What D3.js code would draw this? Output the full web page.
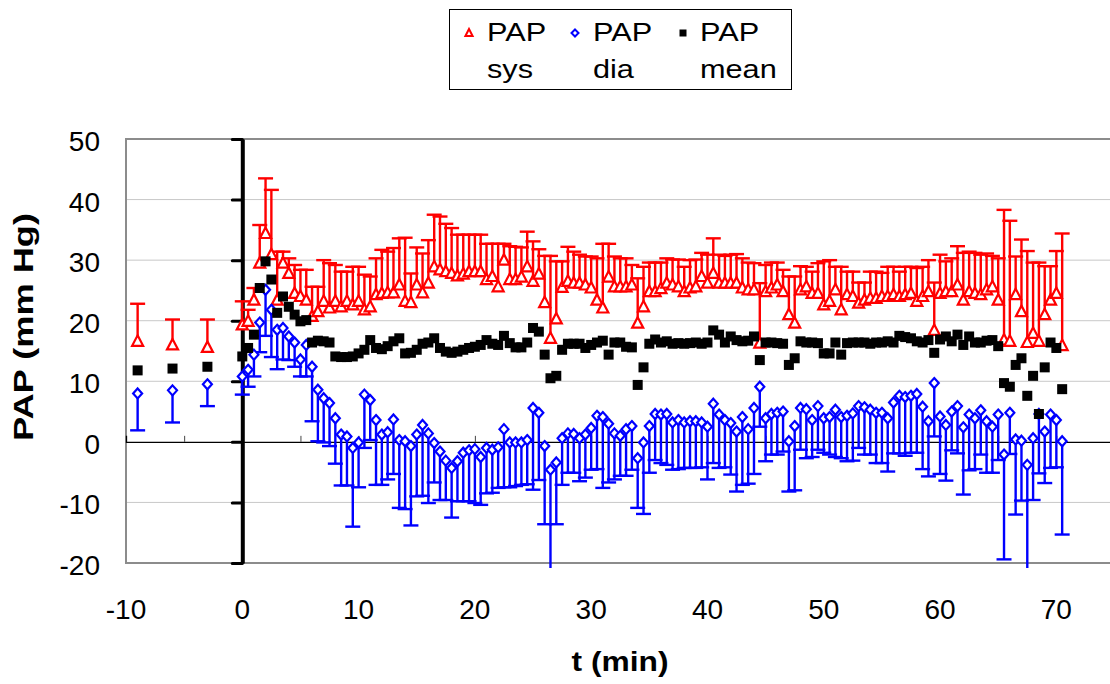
<!DOCTYPE html>
<html>
<head>
<meta charset="utf-8">
<script src="https://cdn.jsdelivr.net/npm/d3@7"></script>
<style>
body { margin: 0; background: #fff; }
text { font-family: Arial, "Liberation Sans", sans-serif; fill: #000; }
</style>
</head>
<body>
<svg id="chart" width="1110" height="684"></svg>
<script>
// baseline points before t = 0, then one sample every half minute
var preTimes = [-9, -6, -3];
var times = preTimes.concat(d3.range(0, 71, 0.5));

// PAP sys: value and top of error bar
var sysVal = [16.6, 16.0, 15.6,
  19.3,19.9,23.4,29.5,34.4,30.9,23.4,29.5,27.8,24.5,
  24.0,23.4,20.7,21.5,23.2,22.1,23.2,22.3,23.2,22.6,
  23.2,21.8,22.3,24.3,24.5,24.6,24.6,25.9,23.2,23.0,
  25.9,24.6,26.2,28.9,28.4,28.1,27.8,27.4,27.7,28.1,
  28.1,28.1,26.8,27.3,25.6,30.0,26.8,26.8,27.2,28.9,
  26.5,27.7,23.0,17.1,20.3,25.5,26.5,26.2,26.2,25.9,
  25.4,23.4,22.1,27.2,25.6,25.6,25.6,25.9,19.6,22.3,
  24.8,24.8,25.3,26.2,25.9,25.6,24.8,25.4,25.6,27.3,
  26.2,27.8,26.2,26.2,26.2,26.2,25.4,25.1,25.1,16.3,
  24.8,25.4,25.9,24.8,21.0,19.6,25.1,25.6,24.5,24.5,
  22.6,23.2,25.1,21.8,24.3,24.0,22.9,23.4,23.7,23.7,
  24.0,24.0,24.3,24.0,24.3,24.5,23.2,24.0,24.8,18.4,
  24.5,24.8,24.8,25.9,23.4,24.8,24.5,24.3,25.1,25.6,
  23.4,16.8,16.6,24.3,21.5,16.4,17.9,16.6,21.0,23.4,
  24.5,15.9];
var sysHi = [22.8, 20.2, 20.2,
  23.2,21.8,25.4,35.8,43.5,41.6,31.4,31.4,30.3,29.2,
  28.4,28.4,25.6,25.6,30.0,29.5,29.2,28.1,28.1,28.9,
  28.9,27.6,27.3,30.3,31.7,31.4,32.0,33.6,33.7,27.8,
  32.1,31.1,33.3,37.5,37.2,36.0,35.3,34.2,34.2,34.2,
  34.2,34.2,32.7,32.7,32.7,32.7,32.3,32.2,32.1,34.7,
  33.1,31.8,30.7,30.7,29.8,29.8,32.2,31.4,30.9,30.6,
  30.6,30.3,32.7,32.7,30.6,30.3,30.3,29.2,27.0,28.9,
  29.6,29.6,29.6,30.3,30.1,30.1,28.9,30.0,30.1,31.2,
  30.9,33.6,30.9,30.7,30.9,31.0,30.3,29.6,29.5,26.2,
  29.2,29.6,29.6,28.4,27.3,27.3,29.0,28.9,28.1,29.5,
  29.8,30.0,28.9,28.9,28.1,28.1,26.3,26.3,28.1,28.1,
  27.9,28.9,28.9,28.1,28.9,28.9,28.7,28.9,30.0,26.3,
  30.9,29.8,30.3,32.3,31.2,31.4,31.2,30.9,31.1,30.7,
  30.3,38.3,36.5,30.6,33.4,31.5,29.6,29.6,29.0,29.0,
  31.5,34.4];

// PAP dia: value and bottom of error bar
var diaVal = [8.0, 8.5, 9.5,
  10.8,11.9,14.4,19.7,25.1,21.8,18.5,18.8,17.4,16.4,
  13.6,16.0,12.4,8.6,7.2,6.4,3.9,1.2,0.9,-1.0,
  -0.1,7.8,6.9,3.6,1.2,1.6,3.7,0.3,0.1,-0.7,
  1.2,2.8,1.4,-0.2,-1.6,-3.1,-4.3,-3.2,-1.8,-1.4,
  -1.2,-2.5,-1.0,-1.3,-0.9,2.1,-0.1,-0.1,-0.1,0.3,
  5.6,4.8,-0.7,-4.6,-3.4,0.6,1.4,1.3,0.6,1.2,
  2.3,4.3,4.1,3.0,1.4,1.0,2.1,2.6,-2.7,-0.1,
  2.6,4.6,4.5,4.6,3.2,3.6,3.2,3.4,3.4,3.2,
  2.5,6.3,4.5,3.6,3.1,1.7,4.1,2.1,5.6,9.1,
  3.9,4.6,4.8,5.0,0.1,2.6,5.6,5.4,3.6,5.9,
  3.9,4.1,5.3,4.1,4.3,4.7,5.9,5.7,5.3,4.8,
  4.8,3.9,6.5,7.6,7.4,7.6,7.9,5.8,3.4,9.7,
  4.2,2.8,5.0,5.9,2.4,4.5,3.9,5.2,3.4,2.5,
  4.5,-2.1,4.8,0.4,0.2,-3.8,0.6,4.6,1.7,4.5,
  3.6,0.1];
var diaLo = [1.9, 3.2, 5.9,
  7.8,9.1,10.8,14.8,17.5,14.0,12.0,13.6,13.5,12.4,
  10.8,10.8,3.4,0.1,-0.1,-0.7,-3.6,-7.2,-7.2,-14.0,
  -7.5,-1.0,0.3,-7.1,-7.1,-6.2,-5.3,-10.9,-11.1,-13.8,
  -9.0,-8.9,-10.1,-6.7,-9.6,-9.6,-12.5,-9.8,-9.8,-9.8,
  -10.1,-10.4,-8.5,-8.4,-7.6,-7.5,-7.5,-7.3,-7.1,-7.0,
  -7.9,-6.3,-13.6,-24,-13.6,-7.1,-5.1,-5.1,-6.5,-5.9,
  -4.6,-4.5,-7.6,-6.7,-6.2,-5.6,-5.6,-4.6,-10.9,-11.9,
  -5.1,-3.0,-3.5,-3.8,-4.6,-4.5,-4.3,-4.3,-4.3,-4.2,
  -6.2,-3.5,-4.3,-4.2,-5.4,-8.2,-7.1,-6.9,-5.3,2.5,
  -3.2,-2.1,-2.1,-1.6,-8.2,-8.0,-1.3,-2.7,-2.5,-1.3,
  -1.8,-2.1,-2.5,-2.7,-3.2,-3.1,-1.0,-2.1,-2.1,-3.5,
  -3.5,-4.9,-1.9,-1.9,-2.3,-1.8,-1.8,-4.5,-5.7,0.9,
  -5.3,-6.4,-1.4,-1.9,-8.7,-4.7,-4.5,-2.1,-5.1,-5.1,
  -3.0,-19.4,-2.0,-12.0,-9.7,-24,-9.6,-5.2,-6.8,-4.3,
  -4.2,-15.3];

// PAP mean
var meanVal = [11.8, 12.1, 12.4,
  14.1,15.5,17.7,25.4,29.8,26.8,21.3,24.0,22.3,21.0,
  19.9,20.1,16.4,16.7,16.6,16.4,14.1,14.0,14.0,14.1,
  14.6,15.2,16.8,15.5,15.3,15.8,16.6,17.1,14.6,14.7,
  15.2,16.2,16.4,17.1,15.5,14.9,14.7,14.9,15.2,15.5,
  15.7,16.0,16.8,16.2,16.0,17.5,16.3,15.6,15.6,16.4,
  18.8,18.2,14.4,10.5,10.9,15.2,16.2,16.2,16.2,15.5,
  16.0,16.4,16.7,14.4,16.4,16.4,15.7,15.6,9.4,12.3,
  16.2,16.9,16.4,16.6,16.2,16.3,16.2,16.3,16.4,16.2,
  16.4,18.4,17.7,16.4,17.4,16.8,16.6,16.7,17.4,13.5,
  16.4,16.4,16.3,16.2,12.7,13.8,16.6,16.4,16.4,16.3,
  14.6,14.6,16.4,14.4,16.3,16.4,16.4,16.4,16.2,16.4,
  16.4,16.6,16.4,17.5,17.3,17.1,16.6,16.4,16.8,14.7,
  16.9,17.4,16.6,17.7,16.0,17.4,16.4,16.4,16.7,16.8,
  15.8,9.7,9.1,12.7,13.8,7.6,10.9,4.6,12.3,16.4,
  15.5,8.7];

var yTicks = [-20, -10, 0, 10, 20, 30, 40, 50];
var xTicks = [-10, 0, 10, 20, 30, 40, 50, 60, 70];
var xMinor = [-5, 5, 10, 15, 20, 25, 30, 35, 40, 45, 50, 55, 60, 65, 70];

var RED = "#ff0000", BLUE = "#0000ff";

var svg = d3.select("#chart");
var x = d3.scaleLinear().domain([-10, 75]).range([126, 1114.5]);
var y = d3.scaleLinear().domain([-20, 50]).range([563, 139]);

var rows = times.map(function (t, i) {
  return { t: t, sys: sysVal[i], sysHi: sysHi[i], dia: diaVal[i], diaLo: diaLo[i], mean: meanVal[i] };
});

// grid
svg.append("g").selectAll("line")
  .data(yTicks.filter(function (d) { return d > -20 && d < 50 && d !== 0; }))
  .enter().append("line")
  .attr("x1", x(-10)).attr("x2", x(75))
  .attr("y1", function (d) { return y(d); }).attr("y2", function (d) { return y(d); })
  .attr("stroke", "#c8c8c8").attr("stroke-width", 1);

svg.append("rect")
  .attr("x", x(-10)).attr("y", y(50))
  .attr("width", x(75) - x(-10)).attr("height", y(-20) - y(50))
  .attr("fill", "none").attr("stroke", "#8c8c8c").attr("stroke-width", 2);

// horizontal axis crossing at 0
var xAxis = svg.append("g")
  .attr("transform", "translate(0," + y(0) + ")")
  .call(d3.axisBottom(x).tickValues(xMinor).tickSize(-6).tickFormat(""));
xAxis.select(".domain").attr("stroke", "#000").attr("stroke-width", 1.3);
xAxis.selectAll(".tick line").attr("stroke", "#444").attr("stroke-width", 1);

// vertical axis crossing at 0
var yAxis = svg.append("g")
  .attr("transform", "translate(" + x(0) + ",0)")
  .call(d3.axisLeft(y).tickValues(yTicks).tickSize(10).tickSizeOuter(0).tickFormat(""));
yAxis.select(".domain").attr("stroke", "#000").attr("stroke-width", 4);
yAxis.selectAll(".tick line").attr("stroke", "#000").attr("stroke-width", 3).attr("stroke-linecap", "round");

// tick labels
svg.append("g").selectAll("text")
  .data(yTicks).enter().append("text")
  .attr("x", 100).attr("y", function (d) { return y(d) + 12; })
  .attr("text-anchor", "end").attr("font-size", 28)
  .text(function (d) { return d; });

svg.append("g").selectAll("text")
  .data(xTicks).enter().append("text")
  .attr("x", function (d) { return x(d); }).attr("y", 619)
  .attr("text-anchor", "middle").attr("font-size", 28)
  .text(function (d) { return d; });

svg.append("text")
  .attr("x", 620).attr("y", 671)
  .attr("text-anchor", "middle").attr("font-size", 28).attr("font-weight", "bold")
  .attr("textLength", 97).attr("lengthAdjust", "spacingAndGlyphs")
  .text("t (min)");

svg.append("text")
  .attr("transform", "translate(33,327) rotate(-90)")
  .attr("text-anchor", "middle").attr("font-size", 28).attr("font-weight", "bold")
  .attr("textLength", 228).attr("lengthAdjust", "spacingAndGlyphs")
  .text("PAP (mm Hg)");

// data, clipped just below the plot bottom like the original
svg.append("clipPath").attr("id", "plotClip")
  .append("rect").attr("x", x(-10)).attr("y", 0).attr("width", x(75) - x(-10)).attr("height", 568);
var plot = svg.append("g").attr("clip-path", "url(#plotClip)");

var capW = 7.5;
var triPath = "M0,-6L5.5,4.5L-5.5,4.5Z";
var diaPath = "M0,-5L4.5,0L0,5L-4.5,0Z";

// sys error bars (up)
var sysBars = plot.append("g").attr("stroke", RED).attr("stroke-width", 2.4);
sysBars.selectAll("line.v").data(rows).enter().append("line").attr("class", "v")
  .attr("x1", function (d) { return x(d.t); }).attr("x2", function (d) { return x(d.t); })
  .attr("y1", function (d) { return y(d.sys); }).attr("y2", function (d) { return y(d.sysHi); });
sysBars.selectAll("line.c").data(rows).enter().append("line").attr("class", "c")
  .attr("x1", function (d) { return x(d.t) - capW; }).attr("x2", function (d) { return x(d.t) + capW; })
  .attr("y1", function (d) { return y(d.sysHi); }).attr("y2", function (d) { return y(d.sysHi); });

// dia error bars (down)
var diaBars = plot.append("g").attr("stroke", BLUE).attr("stroke-width", 2.4);
diaBars.selectAll("line.v").data(rows).enter().append("line").attr("class", "v")
  .attr("x1", function (d) { return x(d.t); }).attr("x2", function (d) { return x(d.t); })
  .attr("y1", function (d) { return y(d.dia); }).attr("y2", function (d) { return y(d.diaLo); });
diaBars.selectAll("line.c").data(rows).enter().append("line").attr("class", "c")
  .attr("x1", function (d) { return x(d.t) - capW; }).attr("x2", function (d) { return x(d.t) + capW; })
  .attr("y1", function (d) { return y(d.diaLo); }).attr("y2", function (d) { return y(d.diaLo); });

// markers
plot.append("g").selectAll("path").data(rows).enter().append("path")
  .attr("d", triPath)
  .attr("transform", function (d) { return "translate(" + x(d.t) + "," + y(d.sys) + ")"; })
  .attr("fill", "#fff").attr("stroke", RED).attr("stroke-width", 2.2);

plot.append("g").selectAll("path").data(rows).enter().append("path")
  .attr("d", diaPath)
  .attr("transform", function (d) { return "translate(" + x(d.t) + "," + y(d.dia) + ")"; })
  .attr("fill", "#fff").attr("stroke", BLUE).attr("stroke-width", 2.2);

plot.append("g").selectAll("rect").data(rows).enter().append("rect")
  .attr("x", function (d) { return x(d.t) - 5; })
  .attr("y", function (d) { return y(d.mean) - 5; })
  .attr("width", 10).attr("height", 10).attr("fill", "#000");

// legend
var legend = svg.append("g");
legend.append("rect").attr("x", 449.5).attr("y", 9.5).attr("width", 342).attr("height", 80)
  .attr("fill", "#fff").attr("stroke", "#000").attr("stroke-width", 1);

var legendItems = [
  { mx: 469, tx: 487, l1: "PAP", l2: "sys", kind: "sys" },
  { mx: 575, tx: 593, l1: "PAP", l2: "dia", kind: "dia" },
  { mx: 683, tx: 700, l1: "PAP", l2: "mean", kind: "mean" }
];
legendItems.forEach(function (it) {
  if (it.kind === "sys") {
    legend.append("path").attr("d", "M0,-4L3.6,3L-3.6,3Z")
      .attr("transform", "translate(" + it.mx + ",33)")
      .attr("fill", "#fff").attr("stroke", RED).attr("stroke-width", 2);
  } else if (it.kind === "dia") {
    legend.append("path").attr("d", "M0,-3.5L3.5,0L0,3.5L-3.5,0Z")
      .attr("transform", "translate(" + it.mx + ",33)")
      .attr("fill", "#fff").attr("stroke", BLUE).attr("stroke-width", 2);
  } else {
    legend.append("rect").attr("x", it.mx - 3.5).attr("y", 29.5).attr("width", 7).attr("height", 7).attr("fill", "#000");
  }
  legend.append("text").attr("transform", "translate(" + it.tx + ",41) scale(1.18,1)")
    .attr("font-size", 26).text(it.l1);
  legend.append("text").attr("transform", "translate(" + it.tx + ",78) scale(1.18,1)")
    .attr("font-size", 26).text(it.l2);
});
</script>
</body>
</html>
